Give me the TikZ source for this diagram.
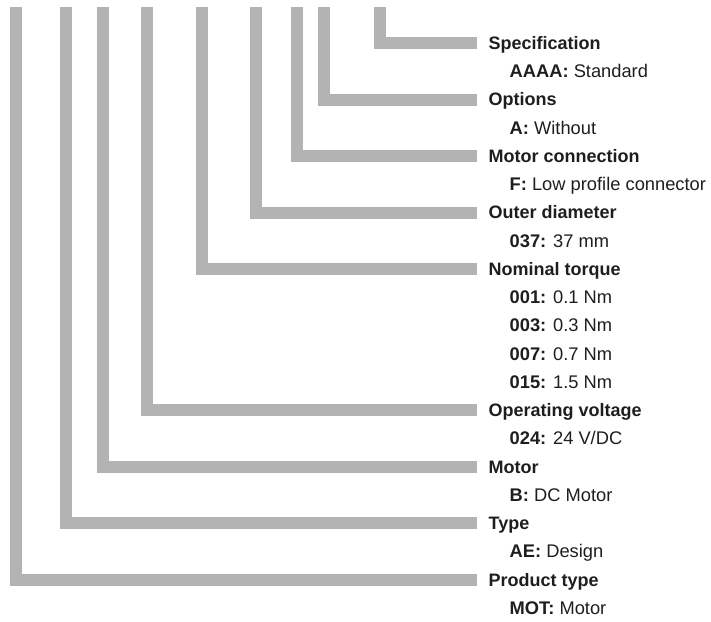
\documentclass[tikz,border=0pt]{standalone}
\usepackage{fontspec}
\setmainfont{Liberation Sans}
\definecolor{bargray}{HTML}{B3B3B3}
\definecolor{txt}{HTML}{1E1E1E}
\begin{document}
\begin{tikzpicture}[x=1pt,y=-1pt,
  bar/.style={draw=bargray,line width=12pt,line cap=butt,line join=miter},
  head/.style={anchor=base west,inner sep=0pt,text=txt,font=\fontsize{18}{20}\selectfont\bfseries},
  sub/.style={anchor=base west,inner sep=0pt,text=txt,font=\fontsize{18.3}{20}\selectfont}]
\useasboundingbox (0,0) rectangle (711,621);
\def\rowy#1{43+28.25*#1}
% headings
\node[head] (spec) at (488.5,{\rowy{0}+6.4}) {Specification};
\node[sub]  (specv) at (509.5,{\rowy{1}+6.4}) {\textbf{AAAA:} Standard};
\node[head] (opt) at (488.5,{\rowy{2}+6.4}) {Options};
\node[sub]  (optv) at (509.5,{\rowy{3}+6.4}) {\textbf{A:} Without};
\node[head] (conn) at (488.5,{\rowy{4}+6.4}) {Motor connection};
\node[sub]  (connv) at (509.5,{\rowy{5}+6.4}) {\textbf{F:} Low profile connector};
\node[head] (diam) at (488.5,{\rowy{6}+6.4}) {Outer diameter};
\node[sub]  (diamv) at (509.5,{\rowy{7}+6.4}) {\textbf{037:} 37 mm};
\node[head] (torq) at (488.5,{\rowy{8}+6.4}) {Nominal torque};
\node[sub]  (torqa) at (509.5,{\rowy{9}+6.4}) {\textbf{001:} 0.1 Nm};
\node[sub]  (torqb) at (509.5,{\rowy{10}+6.4}) {\textbf{003:} 0.3 Nm};
\node[sub]  (torqc) at (509.5,{\rowy{11}+6.4}) {\textbf{007:} 0.7 Nm};
\node[sub]  (torqd) at (509.5,{\rowy{12}+6.4}) {\textbf{015:} 1.5 Nm};
\node[head] (volt) at (488.5,{\rowy{13}+6.4}) {Operating voltage};
\node[sub]  (voltv) at (509.5,{\rowy{14}+6.4}) {\textbf{024:} 24 V/DC};
\node[head] (mot) at (488.5,{\rowy{15}+6.4}) {Motor};
\node[sub]  (motv) at (509.5,{\rowy{16}+6.4}) {\textbf{B:} DC Motor};
\node[head] (type) at (488.5,{\rowy{17}+6.4}) {Type};
\node[sub]  (typev) at (509.5,{\rowy{18}+6.4}) {\textbf{AE:} Design};
\node[head] (prod) at (488.5,{\rowy{19}+6.4}) {Product type};
\node[sub]  (prodv) at (509.5,{\rowy{20}+6.4}) {\textbf{MOT:} Motor};
% bar tops and ends
\foreach \n/\x/\r in {spec/380/0,opt/324/2,conn/297/4,diam/256/6,torq/202/8,volt/146.5/13,mot/103/15,type/66/17,prod/16/19}{
  \coordinate (\n-top) at (\x,7);
  \coordinate (\n-end) at (477,{\rowy{\r}});
  \draw[bar] (\n-top) |- (\n-end);
}
\end{tikzpicture}
\end{document}
